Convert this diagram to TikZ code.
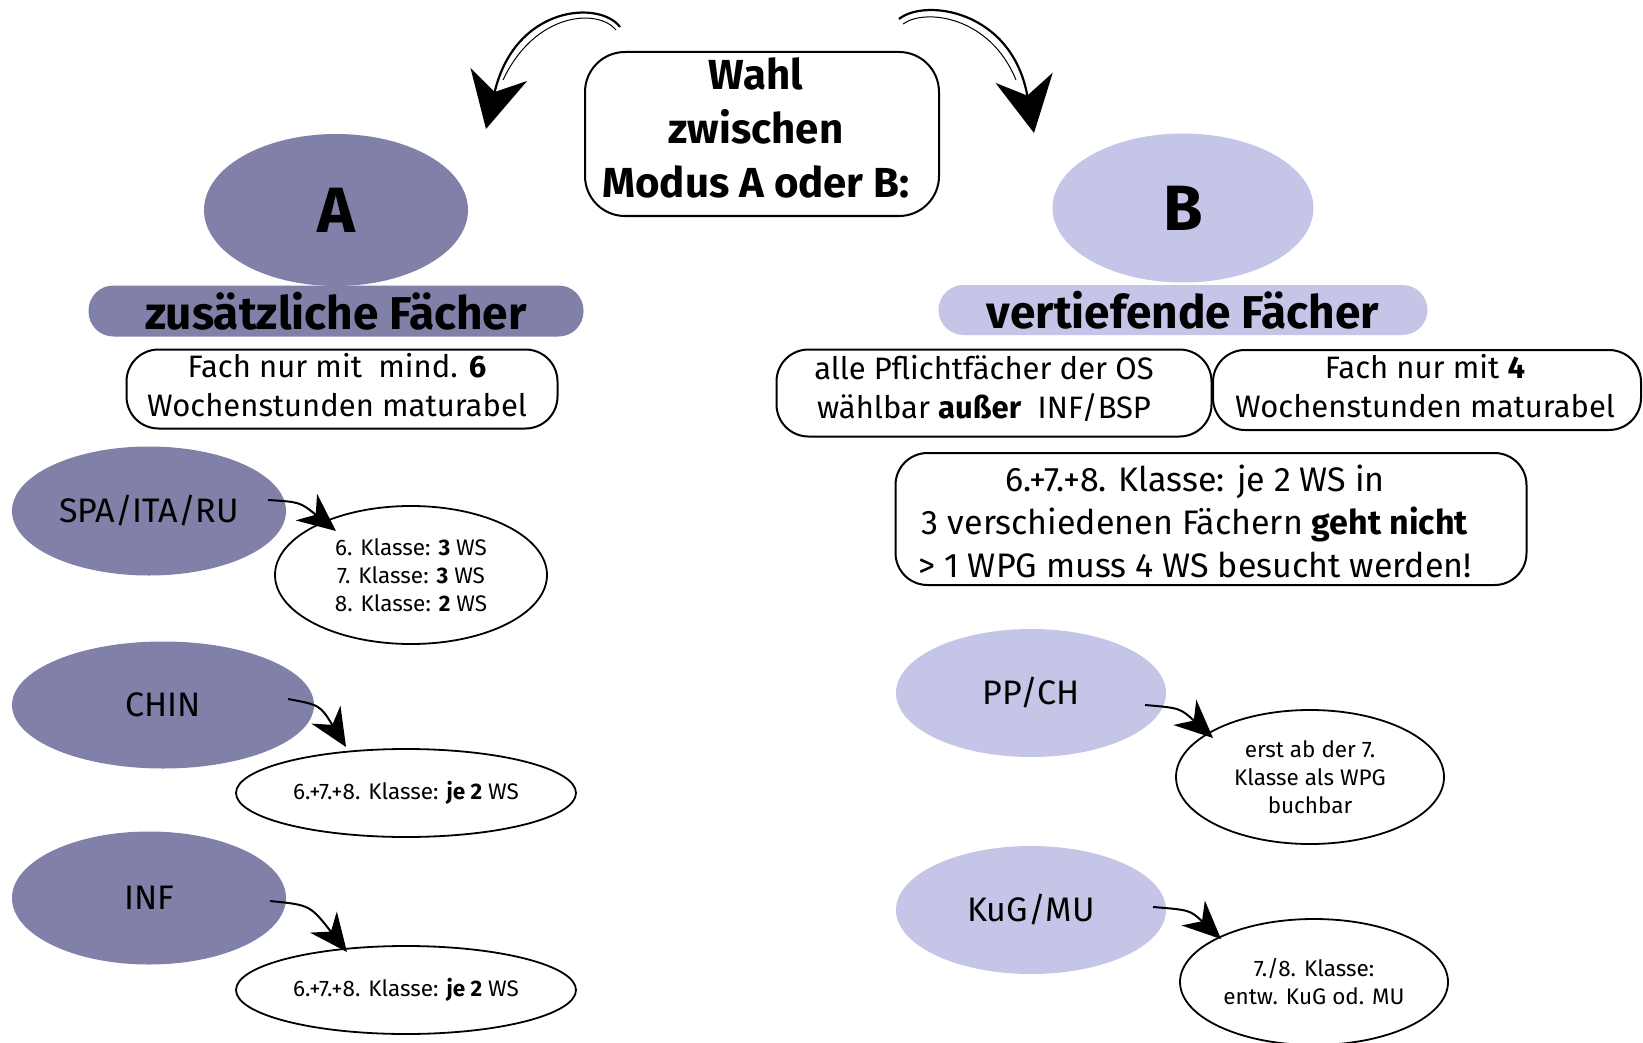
\documentclass[tikz,border=0pt]{standalone}
\usepackage{fontspec}
\setmainfont{Fira Sans}
\usetikzlibrary{shapes.geometric,arrows.meta}
\definecolor{colA}{RGB}{128,128,168}
\definecolor{colB}{RGB}{197,197,232}
\tikzset{
  boxst/.style={draw, line width=2pt, rounded corners=32pt, align=center, inner sep=0pt},
  ovA/.style={ellipse, fill=colA, inner sep=0pt},
  ovB/.style={ellipse, fill=colB, inner sep=0pt},
  det/.style={ellipse, draw, line width=1.8pt, inner sep=0pt, align=center, font=\fontsize{22.5}{28}\selectfont},
  cat/.style={font=\fontsize{34}{40}\selectfont},
  txt/.style={align=center, inner sep=0pt},
  bigarr/.style={line width=2.2pt, -{Stealth[length=56pt, width=58pt, inset=18pt]}},
  smarr/.style={line width=2pt, -{Stealth[length=38pt, width=34pt, inset=12pt]}},
}
\begin{document}
\begin{tikzpicture}[x=1pt,y=-1pt]
\useasboundingbox (0,0) rectangle (1643,1043);
\fill[white] (0,0) rectangle (1643,1043);

% centre box
\node[boxst, rounded corners=40pt, minimum width=354pt, minimum height=164pt] (wahl) at (762,134) {};
\node[txt, font=\fontsize{42}{54}\selectfont\bfseries] (wahltext) at (756,128) {Wahl\\zwischen\\Modus A oder B:};

% A side
\node[ovA, minimum width=264pt, minimum height=152pt, font=\fontsize{64}{70}\selectfont\bfseries] (A) at (336,210) {A};
\node[fill=colA, rounded corners=25pt, minimum width=495pt, minimum height=51pt, inner sep=0pt,
  font=\fontsize{46}{50}\selectfont\bfseries] (barA) at (336,311) {zusätzliche Fächer};
\node[boxst, minimum width=431pt, minimum height=79pt] (fachA) at (342,389) {};
\node[txt, font=\fontsize{31}{39}\selectfont] (fachAt) at (337,385)
  {Fach nur mit~~mind. \textbf{6}\\Wochenstunden maturabel};

% B side
\node[ovB, minimum width=261pt, minimum height=149pt, font=\fontsize{64}{70}\selectfont\bfseries] (B) at (1183,208) {B};
\node[fill=colB, rounded corners=25pt, minimum width=489pt, minimum height=50pt, inner sep=0pt,
  font=\fontsize{46}{50}\selectfont\bfseries] (barB) at (1183,310) {vertiefende Fächer};
\node[boxst, minimum width=435pt, minimum height=87pt] (pflicht) at (994,393) {};
\node[txt, font=\fontsize{31}{39}\selectfont] (pflichtt) at (984,389)
  {alle Pflichtfächer der OS\\wählbar \textbf{außer}~~INF/BSP};
\node[boxst, minimum width=428pt, minimum height=80pt] (fachB) at (1427,390) {};
\node[txt, font=\fontsize{31}{39}\selectfont] (fachBt) at (1425,386)
  {Fach nur mit \textbf{4}\\Wochenstunden maturabel};
\node[boxst, minimum width=631pt, minimum height=132pt] (klasse) at (1211,519) {};
\node[txt, font=\fontsize{34}{43}\selectfont] (klasset) at (1195,521)
  {6.+7.+8. Klasse: je 2 WS in\\3 verschiedenen Fächern \textbf{geht nicht}\\> 1 WPG muss 4 WS besucht werden!};

% A categories
\node[ovA, cat, minimum width=274pt, minimum height=129pt] (spa) at (149,511) {SPA/ITA/RU};
\node[det, minimum width=272pt, minimum height=138pt] (spad) at (411,575)
  {6. Klasse: \textbf{3} WS\\7. Klasse: \textbf{3} WS\\8. Klasse: \textbf{2} WS};
\node[ovA, cat, minimum width=302pt, minimum height=127pt] (chin) at (163,705) {CHIN};
\node[det, minimum width=340pt, minimum height=88pt] (chind) at (406,793) {6.+7.+8. Klasse: \textbf{je 2} WS};
\node[ovA, cat, minimum width=274pt, minimum height=133pt] (inf) at (149,898) {INF};
\node[det, minimum width=340pt, minimum height=88pt] (infd) at (406,990) {6.+7.+8. Klasse: \textbf{je 2} WS};

% B categories
\node[ovB, cat, minimum width=270pt, minimum height=128pt] (pp) at (1031,693) {PP/CH};
\node[det, minimum width=268pt, minimum height=134pt] (ppd) at (1310,777) {erst ab der 7.\\Klasse als WPG\\buchbar};
\node[ovB, cat, minimum width=270pt, minimum height=128pt] (kug) at (1031,910) {KuG/MU};
\node[det, minimum width=268pt, minimum height=126pt] (kugd) at (1314,982) {7./8. Klasse:\\entw. KuG od. MU};

% big curved arrows
\coordinate (la) at (620,27);
\coordinate (lt) at (486,129);
\coordinate (ra) at (899,19);
\coordinate (rt) at (1034,133);
\draw[bigarr] (la) .. controls (600,0) and (515,5) .. (lt);
\draw[line width=1pt] (616,30) .. controls (598,8) and (535,12) .. (503,80);
\draw[bigarr] (ra) .. controls (925,-2) and (1012,10) .. (rt);
\draw[line width=1pt] (903,24) .. controls (925,8) and (990,16) .. (1016,80);

% small arrows
\coordinate (s1) at (268,500);
\coordinate (s1t) at (336,531);
\draw[smarr] (s1) .. controls (300,502) .. (s1t);
\coordinate (s2) at (288,699);
\coordinate (s2t) at (346,747);
\draw[smarr] (s2) .. controls (320,705) .. (s2t);
\coordinate (s3) at (270,901);
\coordinate (s3t) at (347,952);
\draw[smarr] (s3) .. controls (310,905) .. (s3t);
\coordinate (s4) at (1145,705);
\coordinate (s4t) at (1213,738);
\draw[smarr] (s4) .. controls (1180,708) .. (s4t);
\coordinate (s5) at (1153,907);
\coordinate (s5t) at (1221,939);
\draw[smarr] (s5) .. controls (1190,910) .. (s5t);
\end{tikzpicture}
\end{document}
